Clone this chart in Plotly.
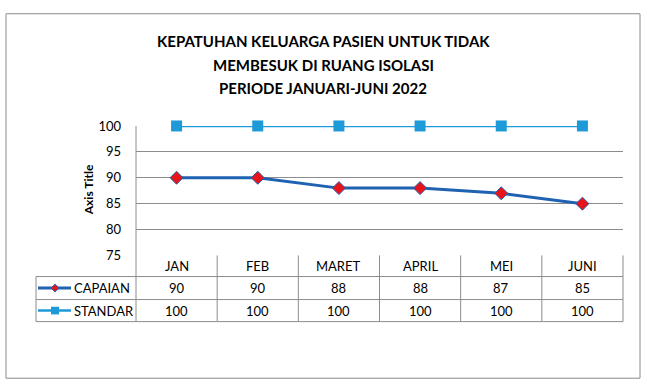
import plotly.graph_objects as go

categories = ["JAN", "FEB", "MARET", "APRIL", "MEI", "JUNI"]
capaian = [90, 90, 88, 88, 87, 85]
standar = [100, 100, 100, 100, 100, 100]
series_names = ["CAPAIAN", "STANDAR"]
y_ticks = [75, 80, 85, 90, 95, 100]
title_lines = ["KEPATUHAN KELUARGA PASIEN UNTUK TIDAK", "MEMBESUK DI RUANG ISOLASI", "PERIODE JANUARI-JUNI 2022"]

W, H = 646, 391
def px(x): return x / W
def py(y): return 1 - y / H

C_CAP = "#2062B2"
C_CAP_MK = "#E8141B"
C_STD = "#1E9AD8"
GRID = "#8C8C8C"
FONT = "Lato, Calibri, sans-serif"

X0, X1 = 136, 623
Y100, Y75 = 123, 258
R1, R2, R3 = 280, 304, 327
TL = 36

fig = go.Figure()
fig.add_trace(go.Scatter(x=categories, y=capaian, mode="lines+markers", name=series_names[0],
                         line=dict(color=C_CAP, width=3), cliponaxis=False,
                         marker=dict(symbol="diamond", size=10, color=C_CAP_MK,
                                     line=dict(color=C_CAP, width=1))))
fig.add_trace(go.Scatter(x=categories, y=standar, mode="lines+markers", name=series_names[1],
                         line=dict(color=C_STD, width=2.5), cliponaxis=False,
                         marker=dict(symbol="square", size=11, color=C_STD)))

shapes = []
shapes.append(dict(type="rect", xref="paper", yref="paper", x0=px(6), x1=px(640), y0=py(386), y1=py(6),
                   line=dict(color="#8A8A8A", width=1), layer="below"))
ln = dict(color=GRID, width=1)
shapes.append(dict(type="line", xref="paper", yref="paper", x0=px(X0), x1=px(X0), y0=py(Y100), y1=py(R3), line=ln, layer="below"))
shapes.append(dict(type="line", xref="paper", yref="paper", x0=px(X1), x1=px(X1), y0=py(Y75), y1=py(R3), line=ln))
for i in range(1, len(categories)):
    shapes.append(dict(type="line", xref="x", yref="paper", x0=i - 0.5, x1=i - 0.5, y0=py(Y75), y1=py(R3), line=ln))
for yy in (R1, R2, R3):
    shapes.append(dict(type="line", xref="paper", yref="paper", x0=px(TL), x1=px(X1), y0=py(yy), y1=py(yy), line=ln))
shapes.append(dict(type="line", xref="paper", yref="paper", x0=px(TL), x1=px(TL), y0=py(R1), y1=py(R3), line=ln))

def key(yc, color, width, marker):
    shapes.append(dict(type="line", xref="paper", yref="paper", x0=px(38), x1=px(71), y0=py(yc), y1=py(yc),
                       line=dict(color=color, width=width)))
    cx = 55
    if marker == "diamond":
        d = 4
        path = f"M {px(cx)} {py(yc - d)} L {px(cx + d)} {py(yc)} L {px(cx)} {py(yc + d)} L {px(cx - d)} {py(yc)} Z"
        shapes.append(dict(type="path", xref="paper", yref="paper", path=path, fillcolor=C_CAP_MK,
                           line=dict(color=C_CAP, width=1)))
    else:
        d = 4
        shapes.append(dict(type="rect", xref="paper", yref="paper", x0=px(cx - d), x1=px(cx + d),
                           y0=py(yc + d), y1=py(yc - d), fillcolor=color, line=dict(width=0)))

rows_y = [(R1 + R2) / 2, (R2 + R3) / 2]
key(rows_y[0], C_CAP, 3, "diamond")
key(rows_y[1], C_STD, 2.5, "square")

annotations = []
tf = dict(family=FONT, size=13, color="#000000")
for c in categories:
    annotations.append(dict(x=c, y=py((Y75 + R1) / 2), xref="x", yref="paper", text=c, showarrow=False,
                            xanchor="center", yanchor="middle", font=tf))
for vals, yc in zip([capaian, standar], rows_y):
    for c, v in zip(categories, vals):
        annotations.append(dict(x=c, y=py(yc), xref="x", yref="paper", text=str(v), showarrow=False,
                                xanchor="center", yanchor="middle", font=tf))
for name, yc in zip(series_names, rows_y):
    annotations.append(dict(x=px(72), y=py(yc), xref="paper", yref="paper", text=name, showarrow=False,
                            xanchor="left", yanchor="middle", font=tf))
annotations.append(dict(x=px(88), y=py(190), xref="paper", yref="paper", text="<b>Axis Title</b>", textangle=-90,
                        showarrow=False, xanchor="center", yanchor="middle",
                        font=dict(family=FONT, size=12, color="#000000")))
for t, yy in zip(title_lines, [34, 59, 83]):
    annotations.append(dict(x=px(323), y=py(yy), xref="paper", yref="paper", text=f"<b>{t}</b>",
                            showarrow=False, xanchor="center", yanchor="middle",
                            font=dict(family=FONT, size=15, color="#000000")))

fig.update_layout(
    width=W, height=H, margin=dict(l=0, r=0, t=0, b=0),
    paper_bgcolor="white", plot_bgcolor="white", showlegend=False,
    xaxis=dict(domain=[px(X0), px(X1)], type="category", range=[-0.5, len(categories) - 0.5],
               showgrid=False, showticklabels=False, zeroline=False, showline=False),
    yaxis=dict(domain=[py(Y75), py(Y100)], range=[75, 100], tickvals=y_ticks, showgrid=True,
               gridcolor=GRID, gridwidth=1, zeroline=False, showline=False,
               ticklabelstandoff=14, tickfont=dict(family=FONT, size=13, color="#000000")),
    shapes=shapes, annotations=annotations,
)
fig.write_html("out.html", config={"displayModeBar": False},
               post_script="document.body.style.margin='0';document.body.style.padding='0';document.body.style.overflow='hidden';")
